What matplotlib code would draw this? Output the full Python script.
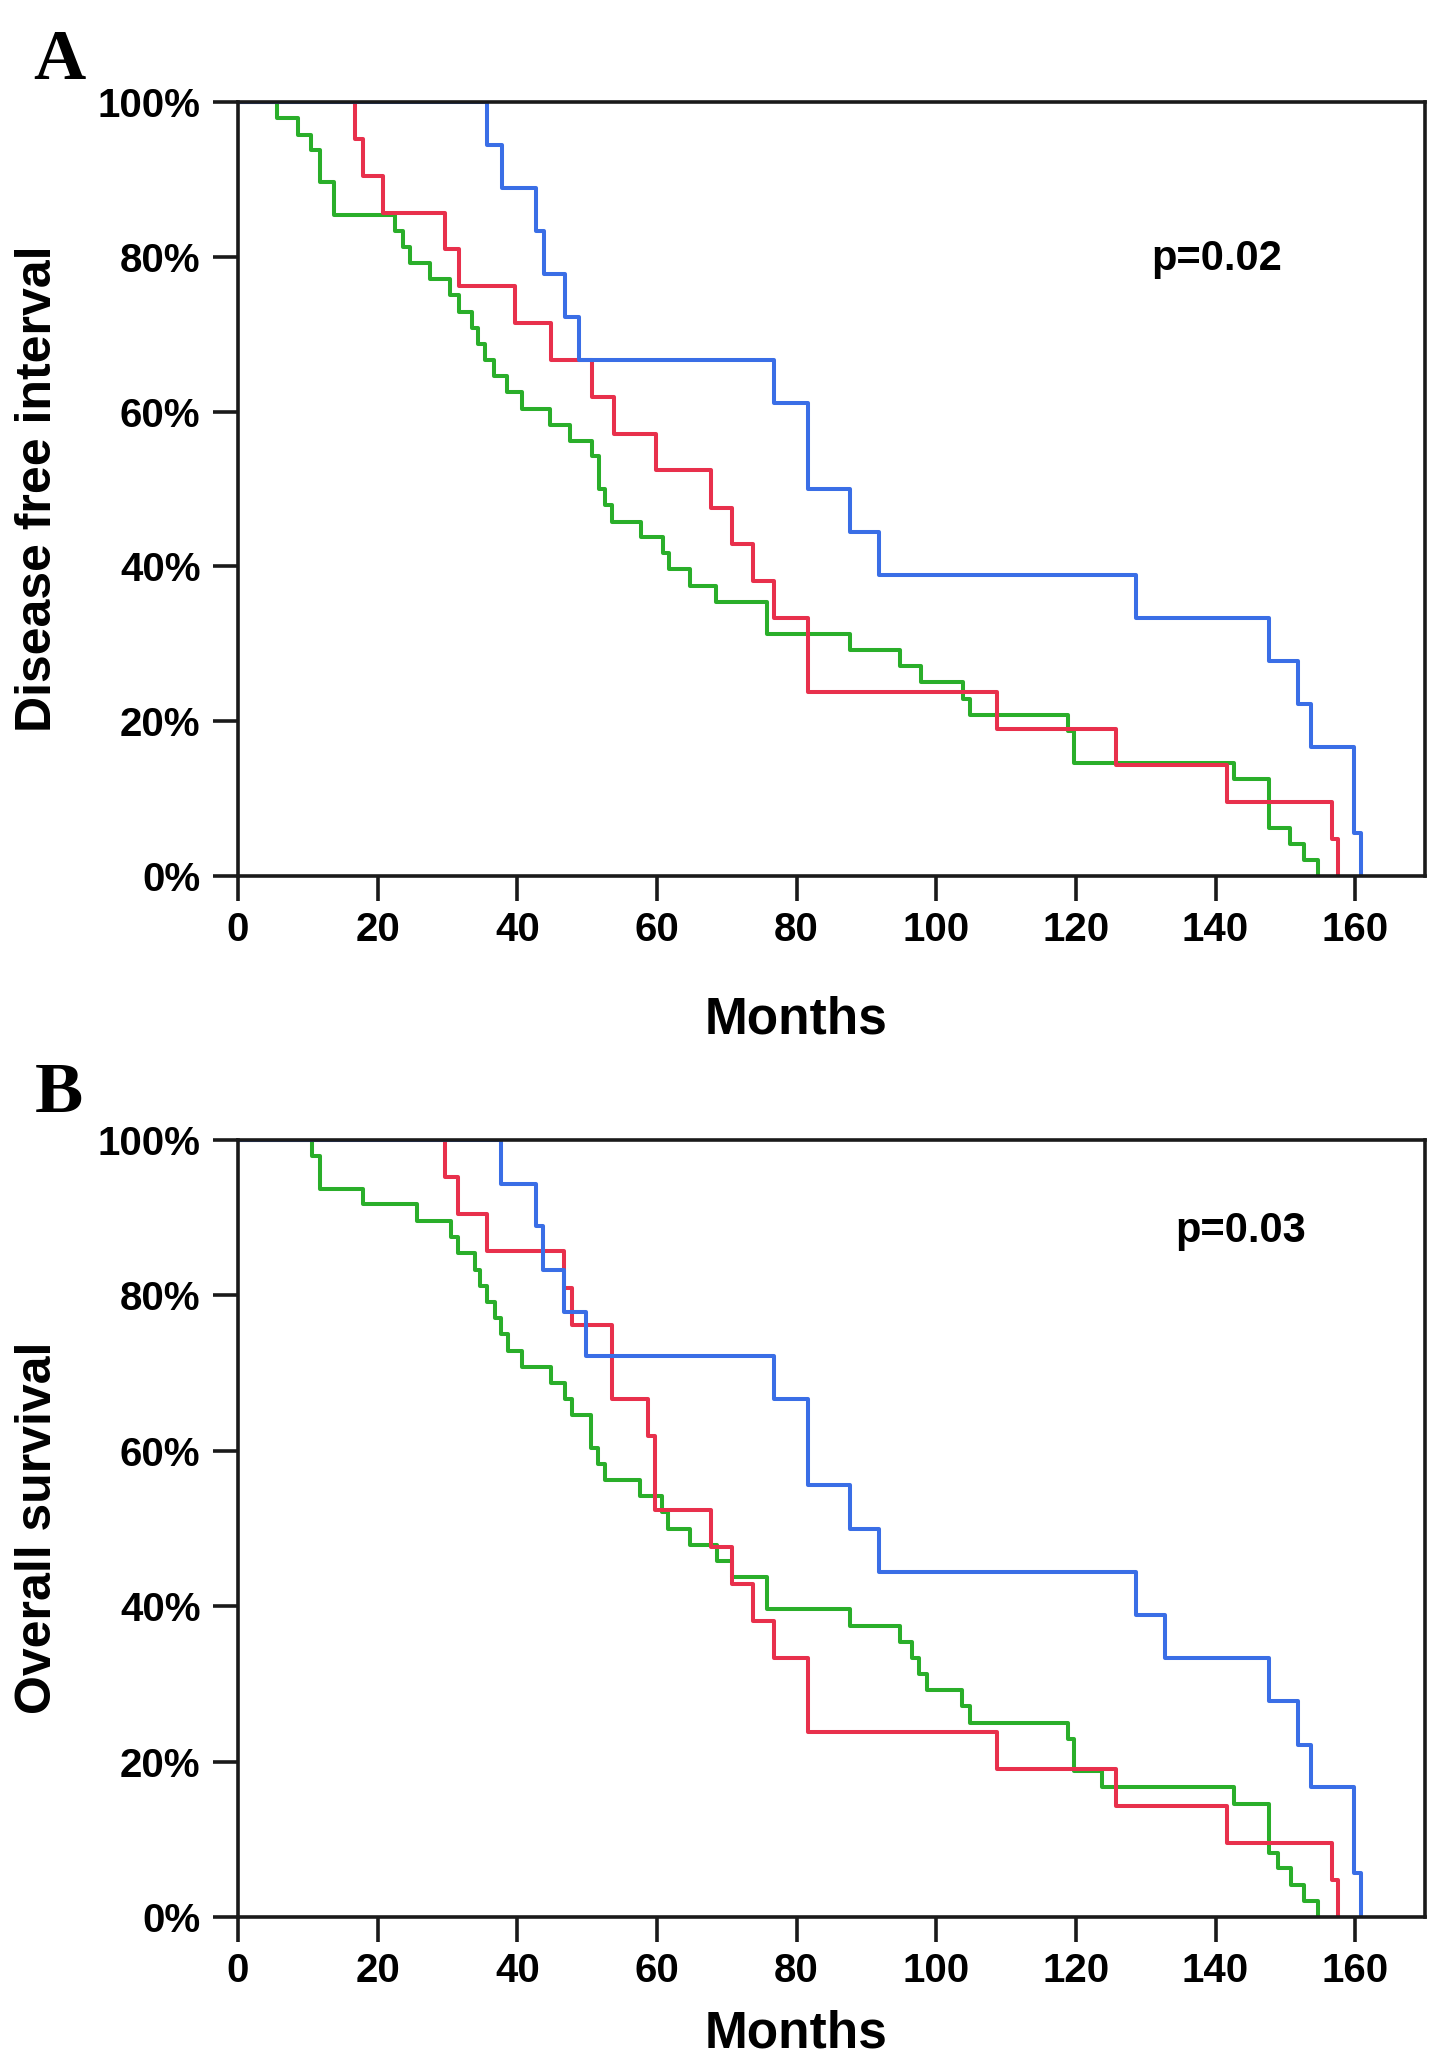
"""
Kaplan-Meier curves: disease free interval (A) and overall survival (B)
for three patient groups, redrawn from the published figure.
"""

import matplotlib
matplotlib.use("Agg")
import matplotlib.pyplot as plt

# ---------------------------------------------------------------------------
# Data: step times (months) and survival (%)
# ---------------------------------------------------------------------------
dfi_blue_t = [0, 35.6, 37.8, 42.7, 43.8, 46.8, 48.8, 76.7, 81.6, 87.6, 91.8,
              128.6, 147.7, 151.8, 153.7, 159.8, 160.9]
dfi_blue_s = [100, 94.4, 88.9, 83.3, 77.8, 72.2, 66.7, 61.1, 50.0, 44.4, 38.9,
              33.3, 27.8, 22.2, 16.7, 5.6, 0]

dfi_red_t = [0, 16.7, 17.9, 20.8, 29.7, 31.6, 39.7, 44.8, 50.7, 53.8, 59.8,
             67.8, 70.8, 73.7, 76.7, 81.6, 108.7, 125.7, 141.7, 156.7, 157.6]
dfi_red_s = [100, 95.2, 90.5, 85.7, 81.0, 76.2, 71.4, 66.7, 61.9, 57.1, 52.4,
             47.6, 42.9, 38.1, 33.3, 23.8, 19.0, 14.3, 9.5, 4.8, 0]

dfi_green_t = [0, 5.6, 8.6, 10.5, 11.7, 13.8, 22.5, 23.7, 24.6, 27.5, 30.4,
               31.6, 33.5, 34.4, 35.4, 36.6, 38.5, 40.7, 44.7, 47.6, 50.7,
               51.7, 52.6, 53.6, 57.7, 60.8, 61.7, 64.8, 68.5, 75.7, 87.6,
               94.8, 97.8, 103.8, 104.9, 118.8, 119.8, 142.7, 147.7, 150.6,
               152.7, 154.7]
dfi_green_s = [100, 97.9, 95.8, 93.75, 89.6, 85.4, 83.3, 81.25, 79.2, 77.1, 75.0,
               72.9, 70.8, 68.75, 66.7, 64.6, 62.5, 60.4, 58.3, 56.25, 54.2,
               50.0, 47.9, 45.8, 43.75, 41.7, 39.6, 37.5, 35.4, 31.25, 29.2,
               27.1, 25.0, 22.9, 20.8, 18.75, 14.6, 12.5, 6.25, 4.17,
               2.08, 0]

os_blue_t = [0, 37.7, 42.7, 43.7, 46.7, 49.8, 76.7, 81.6, 87.6, 91.8, 128.6,
             132.7, 147.7, 151.8, 153.7, 159.8, 160.9]
os_blue_s = [100, 94.4, 88.9, 83.3, 77.8, 72.2, 66.7, 55.6, 50.0, 44.4, 38.9,
             33.3, 27.8, 22.2, 16.7, 5.6, 0]

os_red_t = [0, 29.6, 31.5, 35.6, 46.7, 47.8, 53.6, 58.7, 59.7, 67.8, 70.8,
            73.7, 76.7, 81.6, 108.7, 125.7, 141.7, 156.7, 157.6]
os_red_s = [100, 95.2, 90.5, 85.7, 81.0, 76.2, 66.7, 61.9, 52.4, 47.6, 42.9,
            38.1, 33.3, 23.8, 19.0, 14.3, 9.5, 4.8, 0]

os_green_t = [0, 10.6, 11.7, 17.9, 25.6, 30.5, 31.5, 33.9, 34.6, 35.6, 36.8,
              37.7, 38.6, 40.7, 44.8, 46.8, 47.8, 50.6, 51.6, 52.6, 57.6,
              60.7, 61.6, 64.7, 68.6, 70.8, 75.7, 87.6, 94.8, 96.6, 97.5,
              98.7, 103.7, 104.8, 118.8, 119.8, 123.8, 142.7, 147.7, 148.9,
              150.8, 152.7, 154.7]
os_green_s = [100, 97.9, 93.75, 91.7, 89.6, 87.5, 85.4, 83.3, 81.25, 79.2, 77.1,
              75.0, 72.9, 70.8, 68.75, 66.7, 64.6, 60.4, 58.3, 56.25, 54.2,
              52.1, 50.0, 47.9, 45.8, 43.75, 39.6, 37.5, 35.4, 33.3, 31.25,
              29.2, 27.1, 25.0, 22.9, 18.75, 16.7, 14.6, 8.3, 6.25,
              4.17, 2.08, 0]

x_ticks = [0, 20, 40, 60, 80, 100, 120, 140, 160]
y_ticks = [0, 20, 40, 60, 80, 100]
y_tick_labels = ["0%", "20%", "40%", "60%", "80%", "100%"]

BLUE = "#3a6ee6"
RED = "#e8304c"
GREEN = "#2aae2a"

SANS = ["Liberation Sans", "DejaVu Sans"]
SERIF = ["Liberation Serif", "DejaVu Serif"]

W, H = 1441, 2059


def draw_panel(ax, curves, p_text, p_pos, ylabel, ylabel_y):
    for t, s, c in curves:
        # keep curves under the frame so the flat 100% start hides in the spine
        ax.step(t, s, where="post", color=c, linewidth=2.9, zorder=2)

    ax.set_xlim(0, 170)
    ax.set_ylim(0, 100)
    ax.set_xticks(x_ticks)
    ax.set_xticklabels([str(v) for v in x_ticks])
    ax.set_yticks(y_ticks)
    ax.set_yticklabels(y_tick_labels)

    for sp in ax.spines.values():
        sp.set_linewidth(2.6)
        sp.set_color("#1a1a1a")
        sp.set_zorder(4)
    ax.tick_params(axis="both", direction="out", length=18, width=2.6,
                   color="#1a1a1a", labelsize=29)
    ax.tick_params(axis="x", pad=7)
    ax.tick_params(axis="y", pad=9)
    for lab in ax.get_xticklabels() + ax.get_yticklabels():
        lab.set_family(SANS)
        lab.set_fontweight("bold")

    ax.text(p_pos[0], p_pos[1], p_text, fontsize=30, fontweight="bold",
            family=SANS, ha="left", va="baseline")

    fig.text(38 / W, ylabel_y, ylabel, rotation=90, fontsize=36,
             fontweight="bold", family=SANS, ha="center", va="center")


fig = plt.figure(figsize=(W / 100, H / 100), dpi=100)

ax_a = fig.add_axes([238 / W, 1 - 876 / H, (1425 - 238) / W, (876 - 102) / H])
ax_b = fig.add_axes([238 / W, 1 - 1917 / H, (1425 - 238) / W, (1917 - 1140) / H])

draw_panel(ax_a,
           [(dfi_green_t, dfi_green_s, GREEN),
            (dfi_red_t, dfi_red_s, RED),
            (dfi_blue_t, dfi_blue_s, BLUE)],
           "p=0.02", (130.8, 78.3), "Disease free interval", 1 - 489 / H)
draw_panel(ax_b,
           [(os_green_t, os_green_s, GREEN),
            (os_red_t, os_red_s, RED),
            (os_blue_t, os_blue_s, BLUE)],
           "p=0.03", (134.3, 86.9), "Overall survival", 1 - 1528 / H)

# x-axis titles are centred over 0-160 months, not over the full axis
for ax, base in [(ax_a, 1033), (ax_b, 2048)]:
    fig.text(796 / W, 1 - base / H, "Months", fontsize=37, fontweight="bold",
             family=SANS, ha="center", va="baseline")

# panel letters
fig.text(33 / W, 1 - 79 / H, "A", fontsize=52, fontweight="bold",
         family=SERIF, ha="left", va="baseline")
fig.text(35 / W, 1 - 1112 / H, "B", fontsize=52, fontweight="bold",
         family=SERIF, ha="left", va="baseline")

fig.savefig("out.png", dpi=100)
plt.close(fig)
